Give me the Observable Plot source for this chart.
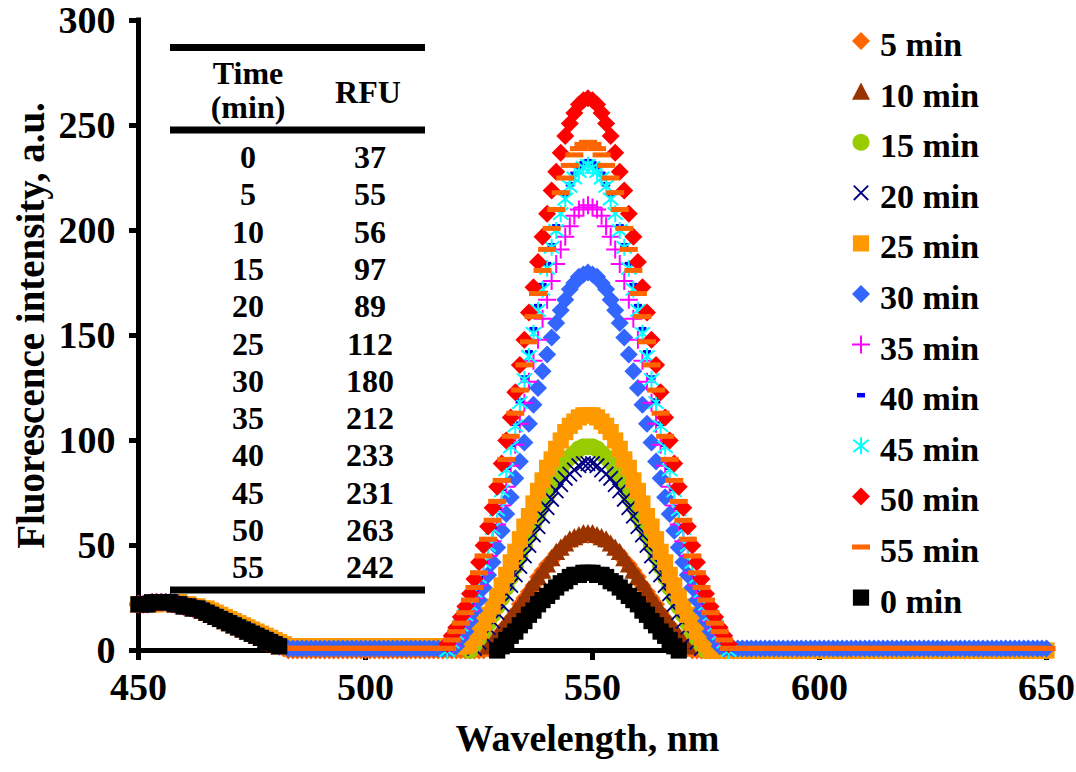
<!DOCTYPE html>
<html>
<head>
<meta charset="utf-8">
<script src="https://cdn.jsdelivr.net/npm/d3@7"></script>
<script src="https://cdn.jsdelivr.net/npm/@observablehq/plot@0.6"></script>
<style>
  html, body { margin: 0; padding: 0; background: #fff; overflow: hidden; }
  #chart { position: relative; width: 1076px; height: 772px; }
  #chart svg { position: absolute; left: 0; top: 0; }
  #overlay { pointer-events: none; }
</style>
</head>
<body>
<div id="chart"></div>
<script>
// Emission spectra, 1 nm steps from 450 to 650 nm. Values below 0 fall
// under the axis minimum and are not drawn.
const startNm = 450;
const xTicks = [450, 500, 550, 600, 650];
const yTicks = [0, 50, 100, 150, 200, 250, 300];

// Inset table: incubation time and peak fluorescence
const tableTime = [0, 5, 10, 15, 20, 25, 30, 35, 40, 45, 50, 55];
const tableRFU = [37, 55, 56, 97, 89, 112, 180, 212, 233, 231, 263, 242];

const rfu5 = [
  22,22,22,23,23,23,23,23,22,22, 21,21,20,20,19,18,17,16,15,14, 13,12,11,10,9,8,7,6,5,4, 3,2,1,
  0,0,0,0,0,0,0,0,0,0, 0,0,0,0,0,0,0,0,0,0, 0,0,0,0,0,0,0,0,0,0, 0,0,
  0,0,0,0,0,0,0,0,0,0, 0,0,1,4,6,9,12,15,18,22, 25,28,31,35,38,41,43,46,48,50, 52,53,54,55,
  55,
  55,54,53,52,50,48,46,43,41,38, 35,31,28,25,22,18,15,12,9,6, 4,1,0,0,0,0,0,0,0,0, 0,0,0,0,
  0,0,0,0,0,0,0,0,0,0, 0,0,0,0,0,0,0,0,0,0, 0,0,0,0,0,0,0,0,0,0, 0,0,0,0,0,0,0,0,0,0,
  0,0,0,0,0,0,0,0,0,0, 0,0,0,0,0,0,0,0,0,0, 0,0,0,0,0,0,0
];
const rfu10 = [
  22,22,22,23,23,23,23,23,22,22, 21,21,20,20,19,18,17,16,15,14, 13,12,11,10,9,8,7,6,5,4, 3,2,-5,
  -5,-5,-5,-5,-5,-5,-5,-5,-5,-5, -5,-5,-5,-5,-5,-5,-5,-5,-5,-5, -5,-5,-5,-5,-5,-5,-5,-5,-5,-5, -5,-5,
  -5,-5,-5,-5,-5,-5,-5,-5,-5,-5, -3,-1,2,4,7,10,13,16,19,22, 25,29,32,35,38,41,44,47,49,51, 53,54,55,56,
  56,
  56,55,54,53,51,49,47,44,41,38, 35,32,29,25,22,19,16,13,10,7, 4,2,-1,-3,-5,-5,-5,-5,-5,-5, -5,-5,-5,-5,
  -5,-5,-5,-5,-5,-5,-5,-5,-5,-5, -5,-5,-5,-5,-5,-5,-5,-5,-5,-5, -5,-5,-5,-5,-5,-5,-5,-5,-5,-5, -5,-5,-5,-5,-5,-5,-5,-5,-5,-5,
  -5,-5,-5,-5,-5,-5,-5,-5,-5,-5, -5,-5,-5,-5,-5,-5,-5,-5,-5,-5, -5,-5,-5,-5,-5,-5,-5
];
const rfu15 = [
  22,22,22,23,23,23,23,23,22,22, 21,21,20,20,19,18,17,16,15,14, 13,12,11,10,9,8,7,6,5,4, 3,2,-5,
  -5,-5,-5,-5,-5,-5,-5,-5,-5,-5, -5,-5,-5,-5,-5,-5,-5,-5,-5,-5, -5,-5,-5,-5,-5,-5,-5,-5,-5,-5, -5,-5,
  -5,-5,-5,-5,-5,-5,-5,-2,0,3, 6,9,13,17,21,25,30,35,40,45, 50,55,60,65,70,74,79,83,86,90, 92,94,96,97,
  97,
  97,96,94,92,90,86,83,79,74,70, 65,60,55,50,45,40,35,30,25,21, 17,13,9,6,3,0,-2,-5,-5,-5, -5,-5,-5,-5,
  -5,-5,-5,-5,-5,-5,-5,-5,-5,-5, -5,-5,-5,-5,-5,-5,-5,-5,-5,-5, -5,-5,-5,-5,-5,-5,-5,-5,-5,-5, -5,-5,-5,-5,-5,-5,-5,-5,-5,-5,
  -5,-5,-5,-5,-5,-5,-5,-5,-5,-5, -5,-5,-5,-5,-5,-5,-5,-5,-5,-5, -5,-5,-5,-5,-5,-5,-5
];
const rfu20 = [
  22,22,22,23,23,23,23,23,22,22, 21,21,20,20,19,18,17,16,15,14, 13,12,11,10,9,8,7,6,5,4, 3,2,-5,
  -5,-5,-5,-5,-5,-5,-5,-5,-5,-5, -5,-5,-5,-5,-5,-5,-5,-5,-5,-5, -5,-5,-5,-5,-5,-5,-5,-5,-5,-5, -5,-5,
  -5,-5,-5,-5,-5,-5,-5,-4,-1,1, 4,7,11,14,18,22,27,31,36,40, 45,50,55,59,64,68,72,76,79,82, 84,86,88,89,
  89,
  89,88,86,84,82,79,76,72,68,64, 59,55,50,45,40,36,31,27,22,18, 14,11,7,4,1,-1,-4,-5,-5,-5, -5,-5,-5,-5,
  -5,-5,-5,-5,-5,-5,-5,-5,-5,-5, -5,-5,-5,-5,-5,-5,-5,-5,-5,-5, -5,-5,-5,-5,-5,-5,-5,-5,-5,-5, -5,-5,-5,-5,-5,-5,-5,-5,-5,-5,
  -5,-5,-5,-5,-5,-5,-5,-5,-5,-5, -5,-5,-5,-5,-5,-5,-5,-5,-5,-5, -5,-5,-5,-5,-5,-5,-5
];
const rfu25 = [
  22,22,22,22,22,23,23,23,23,23, 22,22,21,21,20,20,19,18,17,16, 15,14,13,12,11,10,9,8,7,6, 5,4,3,
  2,2,2,2,2,2,2,2,2,2, 2,2,2,2,2,2,2,2,2,2, 2,2,2,2,2,2,2,2,2,2, 2,2,
  2,2,2,2,2,2,2,2,3,6, 9,13,17,21,26,31,36,42,47,53, 59,64,70,76,81,87,91,96,100,104, 107,109,111,112,
  112,
  112,111,109,107,104,100,96,91,87,81, 76,70,64,59,53,47,42,36,31,26, 21,17,13,9,6,3,0,0,0,0, 0,0,0,0,
  0,0,0,0,0,0,0,0,0,0, 0,0,0,0,0,0,0,0,0,0, 0,0,0,0,0,0,0,0,0,0, 0,0,0,0,0,0,0,0,0,0,
  0,0,0,0,0,0,0,0,0,0, 0,0,0,0,0,0,0,0,0,0, 0,0,0,0,0,0,0
];
const rfu30 = [
  22,22,22,22,23,23,23,23,23,22, 22,21,21,20,20,19,18,17,16,15, 14,13,12,11,10,9,8,7,6,5, 4,3,2,
  1,1,1,1,1,1,1,1,1,1, 1,1,1,1,1,1,1,1,1,1, 1,1,1,1,1,1,1,1,1,1, 1,1,
  1,1,1,1,1,2,6,9,14,19, 24,30,36,42,49,57,65,73,82,90, 99,108,117,125,133,141,149,156,162,167, 172,175,178,179,
  180,
  179,178,175,172,167,162,156,149,141,133, 125,117,108,99,90,82,73,65,57,49, 42,36,30,24,19,14,9,6,2,1, 1,1,1,1,
  1,1,1,1,1,1,1,1,1,1, 1,1,1,1,1,1,1,1,1,1, 1,1,1,1,1,1,1,1,1,1, 1,1,1,1,1,1,1,1,1,1,
  1,1,1,1,1,1,1,1,1,1, 1,1,1,1,1,1,1,1,1,1, 1,1,1,1,1,1,1
];
const rfu35 = [
  22,22,22,23,23,23,23,23,22,22, 21,21,20,20,19,18,17,16,15,14, 13,12,11,10,9,8,7,6,5,4, 3,2,-5,
  -5,-5,-5,-5,-5,-5,-5,-5,-5,-5, -5,-5,-5,-5,-5,-5,-5,-5,-5,-5, -5,-5,-5,-5,-5,-5,-5,-5,-5,-5, -5,-5,
  -5,-5,-4,-1,2,6,10,14,19,25, 31,37,45,52,60,69,78,88,98,108, 118,128,138,148,158,167,176,184,191,197, 202,207,210,211,
  212,
  211,210,207,202,197,191,184,176,167,158, 148,138,128,118,108,98,88,78,69,60, 52,45,37,31,25,19,14,10,6,2, -1,-4,-5,-5,
  -5,-5,-5,-5,-5,-5,-5,-5,-5,-5, -5,-5,-5,-5,-5,-5,-5,-5,-5,-5, -5,-5,-5,-5,-5,-5,-5,-5,-5,-5, -5,-5,-5,-5,-5,-5,-5,-5,-5,-5,
  -5,-5,-5,-5,-5,-5,-5,-5,-5,-5, -5,-5,-5,-5,-5,-5,-5,-5,-5,-5, -5,-5,-5,-5,-5,-5,-5
];
const rfu40 = [
  22,22,22,23,23,23,23,23,22,22, 21,21,20,20,19,18,17,16,15,14, 13,12,11,10,9,8,7,6,5,4, 3,2,-5,
  -5,-5,-5,-5,-5,-5,-5,-5,-5,-5, -5,-5,-5,-5,-5,-5,-5,-5,-5,-5, -5,-5,-5,-5,-5,-5,-5,-5,-5,-5, -5,-5,
  -5,-5,-3,0,4,8,12,17,23,29, 35,42,50,59,68,77,87,98,108,119, 130,142,153,164,174,184,193,202,210,217, 222,227,230,232,
  233,
  232,230,227,222,217,210,202,193,184,174, 164,153,142,130,119,108,98,87,77,68, 59,50,42,35,29,23,17,12,8,4, 0,-3,-5,-5,
  -5,-5,-5,-5,-5,-5,-5,-5,-5,-5, -5,-5,-5,-5,-5,-5,-5,-5,-5,-5, -5,-5,-5,-5,-5,-5,-5,-5,-5,-5, -5,-5,-5,-5,-5,-5,-5,-5,-5,-5,
  -5,-5,-5,-5,-5,-5,-5,-5,-5,-5, -5,-5,-5,-5,-5,-5,-5,-5,-5,-5, -5,-5,-5,-5,-5,-5,-5
];
const rfu45 = [
  22,22,22,23,23,23,23,23,22,22, 21,21,20,20,19,18,17,16,15,14, 13,12,11,10,9,8,7,6,5,4, 3,2,-5,
  -5,-5,-5,-5,-5,-5,-5,-5,-5,-5, -5,-5,-5,-5,-5,-5,-5,-5,-5,-5, -5,-5,-5,-5,-5,-5,-5,-5,-5,-5, -5,-5,
  -5,-5,-3,0,4,8,12,17,22,28, 35,42,50,58,67,76,86,97,107,118, 129,140,151,162,172,182,192,200,208,215, 221,225,228,230,
  231,
  230,228,225,221,215,208,200,192,182,172, 162,151,140,129,118,107,97,86,76,67, 58,50,42,35,28,22,17,12,8,4, 0,-3,-5,-5,
  -5,-5,-5,-5,-5,-5,-5,-5,-5,-5, -5,-5,-5,-5,-5,-5,-5,-5,-5,-5, -5,-5,-5,-5,-5,-5,-5,-5,-5,-5, -5,-5,-5,-5,-5,-5,-5,-5,-5,-5,
  -5,-5,-5,-5,-5,-5,-5,-5,-5,-5, -5,-5,-5,-5,-5,-5,-5,-5,-5,-5, -5,-5,-5,-5,-5,-5,-5
];
const rfu50 = [
  22,22,22,23,23,23,23,23,22,22, 21,21,20,20,19,18,17,16,15,14, 13,12,11,10,9,8,7,6,5,4, 3,2,-5,
  -5,-5,-5,-5,-5,-5,-5,-5,-5,-5, -5,-5,-5,-5,-5,-5,-5,-5,-5,-5, -5,-5,-5,-5,-5,-5,-5,-5,-5,-5, -5,-5,
  -5,-4,-1,3,7,11,16,21,27,34, 42,50,59,68,78,89,100,111,123,136, 148,161,173,185,197,208,219,228,237,245, 251,256,260,262,
  263,
  262,260,256,251,245,237,228,219,208,197, 185,173,161,148,136,123,111,100,89,78, 68,59,50,42,34,27,21,16,11,7, 3,-1,-4,-5,
  -5,-5,-5,-5,-5,-5,-5,-5,-5,-5, -5,-5,-5,-5,-5,-5,-5,-5,-5,-5, -5,-5,-5,-5,-5,-5,-5,-5,-5,-5, -5,-5,-5,-5,-5,-5,-5,-5,-5,-5,
  -5,-5,-5,-5,-5,-5,-5,-5,-5,-5, -5,-5,-5,-5,-5,-5,-5,-5,-5,-5, -5,-5,-5,-5,-5,-5,-5
];
const rfu55 = [
  22,22,22,23,23,23,23,23,22,22, 21,21,20,20,19,18,17,16,15,14, 13,12,11,10,9,8,7,6,5,4, 3,2,1,
  1,1,1,1,1,1,1,1,1,1, 1,1,1,1,1,1,1,1,1,1, 1,1,1,1,1,1,1,1,1,1, 1,1,
  1,1,1,1,5,9,13,18,24,30, 37,45,53,62,71,81,91,102,113,124, 136,147,159,170,181,191,201,210,218,225, 231,236,239,241,
  242,
  241,239,236,231,225,218,210,201,191,181, 170,159,147,136,124,113,102,91,81,71, 62,53,45,37,30,24,18,13,9,5, 1,1,1,1,
  1,1,1,1,1,1,1,1,1,1, 1,1,1,1,1,1,1,1,1,1, 1,1,1,1,1,1,1,1,1,1, 1,1,1,1,1,1,1,1,1,1,
  1,1,1,1,1,1,1,1,1,1, 1,1,1,1,1,1,1,1,1,1, 1,1,1,1,1,1,1
];
const rfu0 = [
  22,22,22,23,23,23,23,23,22,22, 21,21,20,20,19,18,17,16,15,14, 13,12,11,10,9,8,7,6,5,4, 3,2,-1,
  -5,-5,-5,-5,-5,-5,-5,-5,-5,-5, -5,-5,-5,-5,-5,-5,-5,-5,-5,-5, -5,-5,-5,-5,-5,-5,-5,-5,-5,-5, -5,-5,
  -5,-5,-5,-5,-5,-5,-5,-5,-5,-5, -5,-5,-4,-2,0,2,5,7,9,12, 14,17,19,22,24,26,28,30,32,33, 35,36,36,37,
  37,
  37,36,36,35,33,32,30,28,26,24, 22,19,17,14,12,9,7,5,2,0, -2,-4,-5,-5,-5,-5,-5,-5,-5,-5, -5,-5,-5,-5,
  -5,-5,-5,-5,-5,-5,-5,-5,-5,-5, -5,-5,-5,-5,-5,-5,-5,-5,-5,-5, -5,-5,-5,-5,-5,-5,-5,-5,-5,-5, -5,-5,-5,-5,-5,-5,-5,-5,-5,-5,
  -5,-5,-5,-5,-5,-5,-5,-5,-5,-5, -5,-5,-5,-5,-5,-5,-5,-5,-5,-5, -5,-5,-5,-5,-5,-5,-5
];

// Marker shapes (size is the symbol area, as d3.symbol passes it)
const rad = size => Math.sqrt(size / Math.PI);
const diamond = {draw(c, s) { const r = rad(s); c.moveTo(0, -r); c.lineTo(r, 0); c.lineTo(0, r); c.lineTo(-r, 0); c.closePath(); }};
const square = {draw(c, s) { const r = rad(s) * 0.9; c.rect(-r, -r, 2 * r, 2 * r); }};
const triangle = {draw(c, s) { const r = rad(s); c.moveTo(0, -r); c.lineTo(r, r * 0.9); c.lineTo(-r, r * 0.9); c.closePath(); }};
const circle = {draw(c, s) { const r = rad(s) * 0.95; c.moveTo(r, 0); c.arc(0, 0, r, 0, 2 * Math.PI); }};
const xMark = {draw(c, s) { const r = rad(s) * 0.8; c.moveTo(-r, -r); c.lineTo(r, r); c.moveTo(r, -r); c.lineTo(-r, r); }};
const plusMark = {draw(c, s) { const r = rad(s); c.moveTo(-r, 0); c.lineTo(r, 0); c.moveTo(0, -r); c.lineTo(0, r); }};
const starMark = {draw(c, s) { const r = rad(s); const q = r * 0.85; c.moveTo(-q, -q * 0.8); c.lineTo(q, q * 0.8); c.moveTo(q, -q * 0.8); c.lineTo(-q, q * 0.8); c.moveTo(0, -r * 0.95); c.lineTo(0, r * 0.95); }};
const shortDash = {draw(c, s) { const r = rad(s); c.rect(-r * 0.45, -r * 0.25, r * 0.9, r * 0.5); }};
const longDash = {draw(c, s) { const r = rad(s); c.rect(-r, -r * 0.28, 2 * r, r * 0.56); }};

// Series in drawing order (later ones sit on top)
const series = [
  {label: "5 min",  values: rfu5,  symbol: diamond,   fill: "#FF6600"},
  {label: "10 min", values: rfu10, symbol: triangle,  fill: "#993300"},
  {label: "15 min", values: rfu15, symbol: circle,    fill: "#99CC00"},
  {label: "20 min", values: rfu20, symbol: xMark,     stroke: "#000080", sw: 1.8},
  {label: "25 min", values: rfu25, symbol: square,    fill: "#FF9900"},
  {label: "30 min", values: rfu30, symbol: diamond,   fill: "#3366FF"},
  {label: "35 min", values: rfu35, symbol: plusMark,  stroke: "#FF00FF", sw: 2},
  {label: "40 min", values: rfu40, symbol: shortDash, fill: "#0000FF"},
  {label: "45 min", values: rfu45, symbol: starMark,  stroke: "#00FFFF", sw: 2},
  {label: "50 min", values: rfu50, symbol: diamond,   fill: "#FF0000"},
  {label: "55 min", values: rfu55, symbol: longDash,  fill: "#FF6600"},
  {label: "0 min",  values: rfu0,  symbol: square,    fill: "#000000"}
];
if (series.some(s => s.values.length !== 201)) {
  throw new Error("spectrum length: " + series.map(s => s.label + "=" + s.values.length).join(", "));
}

const R = 9;
const serif = '"Liberation Serif", "Times New Roman", serif';

const dotMarks = series.map(s => Plot.dot(
  s.values.map((v, i) => ({nm: startNm + i, rfu: v})).filter(d => d.rfu >= 0),
  {x: "nm", y: "rfu", r: R, symbol: s.symbol,
   fill: s.fill || "none", stroke: s.stroke || "none", strokeWidth: s.sw || 0}
));

const plot = Plot.plot({
  width: 1076,
  height: 772,
  marginLeft: 138,
  marginRight: 30,
  marginTop: 20,
  marginBottom: 122,
  style: {fontFamily: serif, fontWeight: "bold", fontSize: "38px", color: "#000", background: "transparent", overflow: "visible"},
  x: {domain: [450, 650]},
  y: {domain: [0, 300]},
  marks: [
    Plot.axisX({ticks: xTicks, tickSize: 10, tickPadding: 13, strokeWidth: 5, fontSize: 38, label: null}),
    Plot.axisY({ticks: yTicks, tickSize: 9, tickPadding: 14, strokeWidth: 5, fontSize: 38, label: null}),
    Plot.ruleY([0], {strokeWidth: 5, strokeLinecap: "square"}),
    Plot.ruleX([450], {strokeWidth: 5, strokeLinecap: "square"}),
    ...dotMarks,
    Plot.text(["Wavelength, nm"], {frameAnchor: "bottom", textAnchor: "middle", dx: -5, dy: 100, fontSize: 38, fontWeight: "bold"}),
    Plot.text(["Fluorescence intensity, a.u."], {frameAnchor: "left", textAnchor: "middle", rotate: -90, dx: -107, dy: -10, fontSize: 39, fontWeight: "bold"})
  ]
});
const chart = document.getElementById("chart");
chart.appendChild(plot);

// Legend and inset table
const svg = d3.select(chart).append("svg")
  .attr("id", "overlay")
  .attr("width", 1076).attr("height", 772)
  .style("font-family", serif).style("font-weight", "bold");

const legend = svg.append("g");
series.forEach((s, i) => {
  const cy = 41 + i * 50.6;
  legend.append("path")
    .attr("transform", `translate(861,${cy})`)
    .attr("d", d3.symbol(s.symbol, Math.PI * R * R)())
    .attr("fill", s.fill || "none")
    .attr("stroke", s.stroke || "none")
    .attr("stroke-width", s.sw || 0);
  legend.append("text")
    .attr("x", 880).attr("y", cy + 15)
    .attr("font-size", 34)
    .text(s.label);
});

const table = svg.append("g").attr("font-size", 32).attr("text-anchor", "middle");
[47.5, 130, 590].forEach(y => table.append("rect").attr("x", 170).attr("y", y - 3.5).attr("width", 255).attr("height", 7).attr("fill", "#000"));
table.append("text").attr("x", 248).attr("y", 84).text("Time");
table.append("text").attr("x", 248).attr("y", 118).text("(min)");
table.append("text").attr("x", 368).attr("y", 103).text("RFU");
tableTime.forEach((t, i) => {
  const y = 168 + i * 37.3;
  table.append("text").attr("x", 248).attr("y", y).text(t);
  table.append("text").attr("x", 370).attr("y", y).text(tableRFU[i]);
});
</script>
</body>
</html>
